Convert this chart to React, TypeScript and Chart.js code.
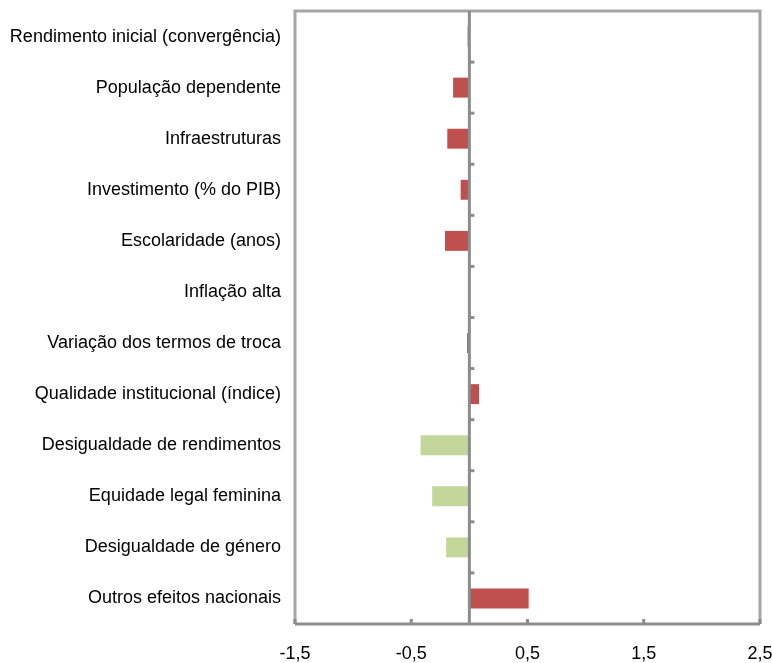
import React, { useEffect, useRef } from "react";
import { Chart, registerables } from "chart.js";

Chart.register(...registerables);

const categories = [
  "Rendimento inicial (convergência)",
  "População dependente",
  "Infraestruturas",
  "Investimento (% do PIB)",
  "Escolaridade (anos)",
  "Inflação alta",
  "Variação dos termos de troca",
  "Qualidade institucional (índice)",
  "Desigualdade de rendimentos",
  "Equidade legal feminina",
  "Desigualdade de género",
  "Outros efeitos nacionais",
];

const values = [-0.015, -0.14, -0.19, -0.075, -0.21, 0, -0.02, 0.083, -0.42, -0.32, -0.2, 0.51];

const barColors = [
  "#c0504d", "#c0504d", "#c0504d", "#c0504d", "#c0504d", "#c0504d",
  "#c0504d", "#c0504d", "#c4d79b", "#c4d79b", "#c4d79b", "#c0504d",
];

const xTicks = [-1.5, -0.5, 0.5, 1.5, 2.5];
const xMin = -1.5;
const xMax = 2.5;

const FONT = "'Liberation Sans', Arial, sans-serif";

const decorPlugin = {
  id: "decor",
  afterDatasetsDraw(chart: any) {
    const { ctx, chartArea, scales } = chart;
    const { left, right, top, bottom } = chartArea;
    const x = scales.x;
    ctx.save();
    ctx.strokeStyle = "#a6a6a6";
    ctx.lineWidth = 3;
    ctx.beginPath();
    ctx.moveTo(left, bottom);
    ctx.lineTo(left, top);
    ctx.lineTo(right, top);
    ctx.lineTo(right, bottom);
    ctx.stroke();
    ctx.strokeStyle = "#8c8c8c";
    ctx.beginPath();
    ctx.moveTo(left, bottom);
    ctx.lineTo(right, bottom);
    ctx.stroke();
    for (const t of xTicks) {
      const px = x.getPixelForValue(t);
      ctx.beginPath();
      ctx.moveTo(px, bottom);
      ctx.lineTo(px, bottom - 5);
      ctx.stroke();
    }
    const zx = x.getPixelForValue(0);
    ctx.beginPath();
    ctx.moveTo(zx, top);
    ctx.lineTo(zx, bottom);
    ctx.stroke();
    const n = categories.length;
    const pitch = (bottom - top) / n;
    for (let i = 1; i < n; i++) {
      const py = top + pitch * i;
      ctx.beginPath();
      ctx.moveTo(zx, py);
      ctx.lineTo(zx + 5, py);
      ctx.stroke();
    }
    ctx.restore();
  },
};

export default function App() {
  const ref = useRef<HTMLCanvasElement | null>(null);
  useEffect(() => {
    if (!ref.current) return;
    const chart = new Chart(ref.current, {
      type: "bar",
      data: {
        labels: categories,
        datasets: [
          {
            data: values,
            backgroundColor: barColors,
            borderWidth: 0,
            barPercentage: 0.39,
            categoryPercentage: 1,
          },
        ],
      },
      options: {
        indexAxis: "y",
        animation: false,
        responsive: false,
        maintainAspectRatio: false,
        layout: { padding: { top: 11, right: 12, left: 0, bottom: 0 } },
        plugins: {
          legend: { display: false },
          tooltip: { enabled: false },
        },
        scales: {
          x: {
            type: "linear",
            min: xMin,
            max: xMax,
            grid: { display: false, drawTicks: false },
            border: { display: false },
            afterBuildTicks(scale: any) {
              scale.ticks = xTicks.map((v) => ({ value: v }));
            },
            afterFit(scale: any) {
              scale.height = 39;
              scale.paddingLeft = 0;
              scale.paddingRight = 0;
            },
            ticks: {
              padding: 19,
              color: "#000",
              font: { family: FONT, size: 18 },
              maxRotation: 0,
              autoSkip: false,
              callback: (v: any) => Number(v).toFixed(1).replace(".", ","),
            },
          },
          y: {
            grid: { display: false, drawTicks: false },
            border: { display: false },
            afterFit(scale: any) {
              scale.width = 295;
              scale.paddingTop = 0;
              scale.paddingBottom = 0;
            },
            ticks: {
              padding: 14,
              color: "#000",
              autoSkip: false,
              font: { family: FONT, size: 18 },
            },
          },
        },
      },
      plugins: [decorPlugin],
    });
    return () => chart.destroy();
  }, []);
  return (
    <div style={{ position: "fixed", left: 0, top: 0, width: 772, height: 663, background: "#fff" }}>
      <canvas ref={ref} width={772} height={663} style={{ width: 772, height: 663, display: "block" }} />
    </div>
  );
}
